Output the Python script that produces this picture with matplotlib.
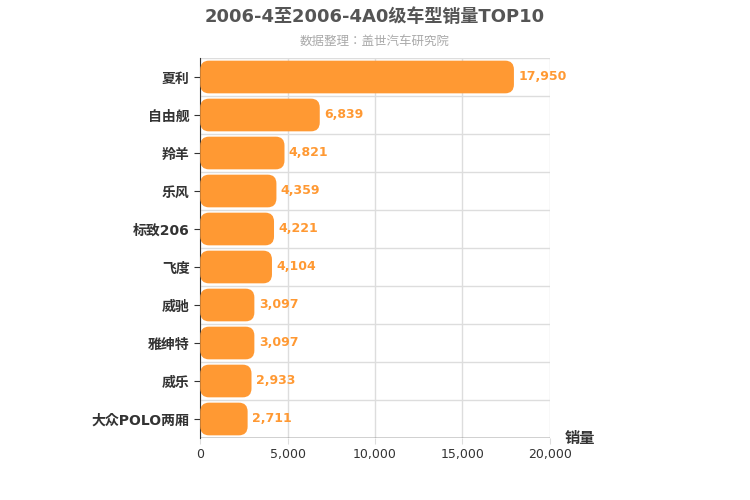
import matplotlib
matplotlib.use("Agg")
import matplotlib.pyplot as plt
from matplotlib.patches import FancyBboxPatch
from matplotlib import font_manager

cands = ["Noto Sans CJK SC", "Noto Sans CJK JP", "Noto Sans CJK TC", "Noto Sans CJK KR"]
avail = {f.name for f in font_manager.fontManager.ttflist}
fam = [c for c in cands if c in avail]
for f in font_manager.fontManager.ttflist:
    if "CJK" in f.name and f.name not in fam:
        fam.append(f.name)
plt.rcParams["font.family"] = ["DejaVu Sans"] + fam

categories = ["夏利", "自由舰", "羚羊", "乐风", "标致206", "飞度", "威驰", "雅绅特", "威乐", "大众POLO两厢"]
values = [17950, 6839, 4821, 4359, 4221, 4104, 3097, 3097, 2933, 2711]
xticks = [0, 5000, 10000, 15000, 20000]

fig = plt.figure(figsize=(7.5, 5), dpi=100)
ax = fig.add_axes([0.267, 0.124, 0.466, 0.76])
n = len(categories)
ax.set_xlim(0, 20000)
ax.set_ylim(n - 0.5, -0.5)
color = "#FF9933"
h = 0.86
for i, v in enumerate(values):
    p = FancyBboxPatch((0, i - h / 2), v, h, boxstyle="round,pad=0,rounding_size=500",
                       mutation_aspect=0.00047, fc=color, ec="none", zorder=3)
    ax.add_patch(p)
    ax.text(v + 250, i, f"{v:,}", va="center", ha="left", color=color,
            fontsize=9, fontweight="bold", zorder=4)
ax.set_yticks(range(n))
ax.set_yticklabels(categories, fontsize=10, fontweight="bold", color="#333333")
ax.set_xticks(xticks)
ax.set_xticklabels([f"{x:,}" for x in xticks], fontsize=9, color="#333333")
ax.grid(axis="x", color="#dddddd", lw=1, zorder=0)
for i in range(n + 1):
    ax.axhline(i - 0.5, color="#dddddd", lw=1, zorder=0)
for s in ["top", "right", "bottom"]:
    ax.spines[s].set_visible(False)
ax.spines["left"].set_color("#333333")
ax.tick_params(axis="y", length=4, color="#333333")
ax.tick_params(axis="x", length=4, color="#dddddd")
ax.axhline(n - 0.5, color="#333333", lw=1, zorder=5)
fig.text(0.5, 0.965, "2006-4至2006-4A0级车型销量TOP10", ha="center", va="center",
         fontsize=13, fontweight="bold", color="#555555")
fig.text(0.5, 0.918, "数据整理：盖世汽车研究院", ha="center", va="center",
         fontsize=9, color="#aaaaaa")
fig.text(0.753, 0.122, "销量", ha="left", va="center", fontsize=11,
         fontweight="bold", color="#333333")
fig.savefig("out.png", dpi=100)
